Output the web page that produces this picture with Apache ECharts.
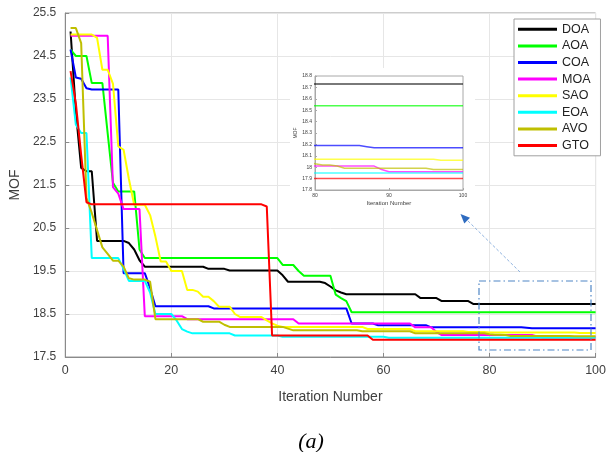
<!DOCTYPE html>
<html>
<head>
<meta charset="utf-8">
<script src="https://cdn.jsdelivr.net/npm/echarts@6/dist/echarts.min.js"></script>
<style>html,body{margin:0;padding:0;background:#fff}#c{width:609px;height:452px}</style>
</head>
<body>
<div id="c"></div>
<script>
const names = ['DOA','AOA','COA','MOA','SAO','EOA','AVO','GTO'];
const colors = ['#000000','#00ff00','#0000ff','#ff00ff','#ffff00','#00ffff','#bfbf00','#ff0000'];
const iterations = Array.from({length:100}, (_, i) => i + 1);
const xTicks = [0, 20, 40, 60, 80, 100];
const yTicks = [17.5, 18.5, 19.5, 20.5, 21.5, 22.5, 23.5, 24.5, 25.5];

const DOA = [25.07,23.2,21.9,21.82,21.82,
 20.2,20.2,20.2,20.2,20.2,20.2,
 20.15,20.0,19.75,
 19.6,19.6,19.6,19.6,19.6,19.6,19.6,19.6,19.6,19.6,19.6,19.6,
 19.55,19.55,19.55,19.55,
 19.51,19.51,19.51,19.51,19.51,19.51,19.51,19.51,19.51,19.51,
 19.4,
 19.25,19.25,19.25,19.25,19.25,19.25,19.25,
 19.22,19.14,19.05,19.0,
 18.96,18.96,18.96,18.96,18.96,18.96,18.96,18.96,18.96,18.96,18.96,18.96,18.96,18.96,
 18.87,18.87,18.87,18.87,
 18.8,18.8,18.8,18.8,18.8,18.8,
 18.73,18.73,18.73,18.73,18.73,18.73,18.73,18.73,18.73,18.73,18.73,18.73,
 18.73,18.73,18.73,18.73,18.73,18.73,18.73,18.73,18.73,18.73,18.73,18.73];

const AOA = [24.65,24.5,24.5,24.5,23.87,23.87,23.87,22.7,21.55,
 21.35,21.35,21.35,21.35,20.0,
 19.8,19.8,19.8,19.8,19.8,19.8,19.8,19.8,19.8,19.8,19.8,19.8,19.8,
 19.8,19.8,19.8,19.8,19.8,19.8,19.8,19.8,19.8,19.8,19.8,19.8,19.8,
 19.64,19.64,19.64,19.5,
 19.39,19.39,19.39,19.39,19.39,19.39,
 18.95,18.87,18.8,
 18.54,18.54,18.54,18.54,18.54,18.54,18.54,18.54,18.54,18.54,18.54,18.54,18.54,18.54,18.54,18.54,
 18.54,18.54,18.54,18.54,18.54,18.54,18.54,18.54,18.54,18.54,18.54,18.54,18.54,18.54,18.54,18.54,
 18.54,18.54,18.54,18.54,18.54,18.54,18.54,18.54,18.54,18.54,18.54,18.54,18.54,18.54,18.54];

const COA = [24.65,24.0,23.97,23.75,
 23.72,23.72,23.72,23.72,23.72,23.72,
 19.45,19.45,19.45,19.45,19.45,19.1,
 18.68,18.68,18.68,18.68,18.68,18.68,18.68,18.68,18.68,18.68,18.68,
 18.63,18.63,18.63,18.63,18.63,18.63,18.63,18.63,18.63,18.63,18.63,18.63,18.63,
 18.63,18.63,18.63,18.63,18.63,18.63,18.63,18.63,18.63,18.63,18.63,18.63,18.63,
 18.28,18.28,18.28,18.28,18.28,
 18.24,18.24,18.24,18.24,18.24,18.24,18.24,18.24,18.24,18.24,
 18.19,18.19,18.19,18.19,18.19,18.19,18.19,18.19,18.19,18.19,18.19,18.19,18.19,18.19,18.19,18.19,18.19,18.19,
 18.18,
 18.17,18.17,18.17,18.17,18.17,18.17,18.17,18.17,18.17,18.17,18.17,18.17,18.17];

const MOA = [24.97,24.97,24.97,24.97,24.97,24.97,24.97,24.97,
 21.45,21.3,20.94,20.94,20.94,20.94,
 18.45,18.45,18.45,18.45,18.45,18.45,18.45,18.45,
 18.38,18.38,18.38,18.38,18.38,18.38,18.38,18.38,18.38,18.38,18.38,
 18.38,18.38,18.38,18.38,18.38,18.38,18.38,18.38,18.38,18.38,
 18.28,18.28,18.28,18.28,18.28,18.28,18.28,18.28,18.28,18.28,18.28,
 18.28,18.28,18.28,18.28,18.28,18.28,18.28,18.28,18.28,18.28,18.28,
 18.19,18.19,18.19,18.19,18.08,
 18.01,18.01,18.01,18.01,18.01,18.01,18.01,18.01,18.01,18.01,18.01,18.01,18.01,18.01,18.01,18.01,18.01,18.01,
 17.98,
 17.96,17.96,17.96,17.96,17.96,17.96,17.96,17.96,17.96,17.96,17.96];

const SAO = [25.0,25.0,25.0,25.0,25.0,24.92,24.18,24.18,23.85,22.4,22.32,21.64,
 21.04,21.04,21.04,20.8,20.3,19.72,19.72,19.5,19.5,19.5,19.06,19.06,19.02,18.9,18.9,18.8,
 18.67,18.67,18.67,18.5,18.43,18.43,18.43,18.43,18.43,18.35,18.28,18.23,
 18.2,18.2,18.2,18.2,18.2,18.2,18.2,18.2,18.2,18.2,18.2,18.2,18.2,18.2,18.2,18.2,
 18.15,18.15,18.15,18.15,18.15,18.15,18.15,18.15,18.15,
 18.1,18.1,18.1,18.1,18.1,18.1,18.1,18.1,18.1,18.1,
 18.08,18.08,18.08,18.08,
 18.07,18.07,18.07,18.07,18.07,18.07,18.07,18.07,18.07,18.07,18.07,18.07,18.07,18.07,18.07,18.07,18.07,
 18.06,18.06,18.06,18.06];

const EOA = [24.0,22.9,22.71,22.71,
 19.8,19.8,19.8,19.8,19.8,19.8,
 19.55,19.27,19.27,19.27,19.27,19.0,
 18.5,18.5,18.5,18.5,18.35,18.15,18.09,
 18.05,18.05,18.05,18.05,18.05,18.05,18.05,18.05,
 18.0,18.0,18.0,18.0,18.0,18.0,18.0,18.0,18.0,
 17.97,17.97,17.97,17.97,17.97,17.97,17.97,17.97,17.97,17.97,
 17.97,17.97,17.97,17.97,17.97,17.97,17.97,17.97,17.97,17.97,
 17.95,17.95,17.95,17.95,17.95,17.95,17.95,17.95,17.95,17.95,
 17.95,17.95,17.95,17.95,17.95,17.95,17.95,17.95,17.95,17.95,
 17.95,17.95,17.95,17.95,17.95,17.95,17.95,17.95,17.95,17.95,
 17.95,17.95,17.95,17.95,17.95,17.95,17.95,17.95,17.95,17.95];

const AVO = [25.15,25.15,24.8,21.2,20.85,20.45,20.05,19.9,19.74,19.74,19.6,19.33,
 19.3,19.3,19.3,19.25,
 18.38,18.38,18.38,18.38,18.38,18.38,18.38,18.38,18.38,
 18.32,18.32,18.32,18.32,18.25,
 18.2,18.2,18.2,18.2,18.2,18.2,18.2,18.2,18.2,18.2,18.2,
 18.16,
 18.12,18.12,18.12,18.12,18.12,18.12,18.12,18.12,18.12,18.12,18.12,18.12,18.12,
 18.1,18.1,18.1,18.1,18.1,18.1,18.1,18.1,18.1,18.1,
 18.05,18.05,18.05,18.05,18.05,18.05,18.05,18.05,18.05,18.05,18.05,18.05,18.05,18.05,
 18.03,18.02,18.02,18.01,
 17.99,17.99,17.99,17.99,17.99,17.99,17.99,17.99,17.99,17.99,17.99,17.99,
 17.98,17.98,17.98,17.98,17.98];

const GTO = [24.15,23.4,22.2,21.1,
 21.05,21.05,21.05,21.05,21.05,21.05,21.05,21.05,21.05,21.05,21.05,
 21.05,21.05,21.05,21.05,21.05,21.05,21.05,21.05,21.05,21.05,21.05,
 21.05,21.05,21.05,21.05,21.05,21.05,21.05,21.05,21.05,21.05,21.05,
 21.0,
 18.0,18.0,18.0,18.0,18.0,18.0,18.0,18.0,18.0,18.0,18.0,18.0,18.0,18.0,18.0,18.0,18.0,18.0,18.0,
 17.9,17.9,17.9,17.9,17.9,17.9,17.9,17.9,17.9,17.9,17.9,17.9,17.9,17.9,17.9,
 17.9,17.9,17.9,17.9,17.9,17.9,17.9,17.9,17.9,17.9,17.9,17.9,17.9,17.9,
 17.9,17.9,17.9,17.9,17.9,17.9,17.9,17.9,17.9,17.9,17.9,17.9,17.9,17.9];

const seriesValues = [DOA, AOA, COA, MOA, SAO, EOA, AVO, GTO];

const insetX = [80, 90, 100];
const insetYmin = 17.8, insetYmax = 18.8;

function pairs(arr) { return arr.map((v, i) => [iterations[i], v]); }

const chart = echarts.init(document.getElementById('c'));
const FONT = 'Liberation Sans, Arial, sans-serif';
const series = [];
names.forEach((n, k) => {
  series.push({
    name: n, type: 'line', xAxisIndex: 0, yAxisIndex: 0,
    data: pairs(seriesValues[k]), showSymbol: false, symbol: 'none',
    lineStyle: { color: colors[k], width: 2 }, itemStyle: { color: colors[k] },
    z: 2, animation: false
  });
});
names.forEach((n, k) => {
  series.push({
    name: n, type: 'line', xAxisIndex: 1, yAxisIndex: 1,
    data: pairs(seriesValues[k]).filter(p => p[0] >= 79), showSymbol: false, symbol: 'none',
    lineStyle: { color: colors[k], width: 1.5, opacity: 0.7 }, itemStyle: { color: colors[k] },
    z: 12, clip: true, animation: false, silent: true
  });
});

const option = {
  animation: false,
  backgroundColor: '#fff',
  grid: [
    { left: 63, right: 10, top: 13, bottom: 95, show: true, borderColor: '#9a9a9a', borderWidth: 1, backgroundColor: 'transparent' },
    { left: 315, top: 76, width: 148, height: 114, show: true, borderColor: '#a8a8a8', borderWidth: 1, backgroundColor: 'transparent', z: 11 }
  ],
  xAxis: [
    { type: 'value', gridIndex: 0, min: xTicks[0], max: xTicks[xTicks.length - 1], interval: 20,
      name: 'Iteration Number', nameLocation: 'middle', nameGap: 33,
      nameTextStyle: { fontFamily: FONT, fontSize: 14, color: '#404040' },
      axisLine: { lineStyle: { color: '#8a8a8a' } },
      axisTick: { show: true, inside: true, length: 4, lineStyle: { color: '#8a8a8a' } },
      axisLabel: { fontFamily: FONT, fontSize: 12.5, color: '#404040', margin: 7 },
      splitLine: { show: true, lineStyle: { color: '#e6e6e6', width: 1 } } },
    { type: 'value', gridIndex: 1, min: insetX[0], max: insetX[insetX.length - 1], interval: 10,
      name: 'Iteration Number', nameLocation: 'middle', nameGap: 10, z: 11,
      nameTextStyle: { fontFamily: FONT, fontSize: 6, color: '#404040' },
      axisLine: { lineStyle: { color: '#a8a8a8' } },
      axisTick: { show: true, inside: true, length: 2, lineStyle: { color: '#a8a8a8' } },
      axisLabel: { fontFamily: FONT, fontSize: 5, color: '#404040', margin: 3 },
      splitLine: { show: false } }
  ],
  yAxis: [
    { type: 'value', gridIndex: 0, min: yTicks[0], max: yTicks[yTicks.length - 1], interval: 1,
      name: 'MOF', nameLocation: 'middle', nameGap: 37, nameRotate: 90,
      nameTextStyle: { fontFamily: FONT, fontSize: 14, color: '#404040' },
      axisLine: { show: true, lineStyle: { color: '#8a8a8a' } },
      axisTick: { show: true, inside: true, length: 4, lineStyle: { color: '#8a8a8a' } },
      axisLabel: { fontFamily: FONT, fontSize: 12, color: '#404040', margin: 9,
        formatter: v => (Math.round(v * 10) / 10).toFixed(1) },
      splitLine: { show: true, lineStyle: { color: '#e6e6e6', width: 1 } } },
    { type: 'value', gridIndex: 1, min: insetYmin, max: insetYmax, interval: 0.1, z: 11,
      name: 'MOF', nameLocation: 'middle', nameGap: 12, nameRotate: 90,
      nameTextStyle: { fontFamily: FONT, fontSize: 5, color: '#404040' },
      axisLine: { show: true, lineStyle: { color: '#a8a8a8' } },
      axisTick: { show: true, inside: true, length: 2, lineStyle: { color: '#a8a8a8' } },
      axisLabel: { fontFamily: FONT, fontSize: 5, color: '#404040', margin: 3,
        formatter: v => String(Math.round(v * 10) / 10) },
      splitLine: { show: false } }
  ],
  legend: {
    data: names, orient: 'vertical', left: 514, top: 19,
    backgroundColor: '#fff', borderColor: '#a0a0a0', borderWidth: 1,
    padding: [2, 10, 2, 4], itemGap: 0, itemWidth: 39, itemHeight: 3, icon: 'rect',
    textStyle: { fontFamily: FONT, fontSize: 12.5, color: '#222', lineHeight: 16.6 },
    z: 20
  },
  graphic: [
    { type: 'rect', z: 5, silent: true, shape: { x: 290, y: 68, width: 185, height: 140 }, style: { fill: '#fff' } },
    { type: 'rect', z: 8, silent: true, shape: { x: 479, y: 281, width: 112, height: 69 },
      style: { fill: null, stroke: '#4f86c6', lineWidth: 1.2, lineDash: [7, 3, 1.5, 3] } },
    { type: 'line', z: 8, silent: true, shape: { x1: 520, y1: 272, x2: 467, y2: 220 },
      style: { stroke: '#8fb3e0', lineWidth: 1, lineDash: [3, 2] } },
    { type: 'polygon', z: 8, silent: true, shape: { points: [[460.5, 214], [470, 217.8], [464.3, 223.6]] },
      style: { fill: '#2f6cc0' } },
    { type: 'text', z: 8, silent: true, x: 311, y: 442,
      style: { text: '(a)', font: 'italic 22px "Liberation Serif", "Times New Roman", serif', textAlign: 'center', textVerticalAlign: 'middle', fill: '#000' } }
  ],
  series: series
};
chart.setOption(option);
</script>
</body>
</html>
